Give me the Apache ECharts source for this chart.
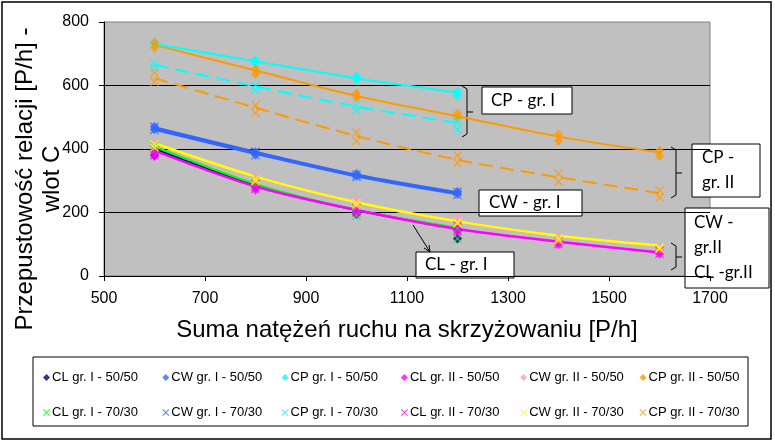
<!DOCTYPE html>
<html>
<head>
<meta charset="utf-8">
<script src="https://cdn.jsdelivr.net/npm/echarts@6/dist/echarts.min.js"></script>
<style>
  html, body { margin: 0; padding: 0; background: #fff; }
  #chart { width: 775px; height: 442px; }
</style>
</head>
<body>
<div id="chart"></div>
<script>
// osie
const X_GR1 = [600, 800, 1000, 1200]
const X_GR2 = [600, 800, 1000, 1200, 1400, 1600]
const X_TICKS = [500, 1700, 200]
const Y_TICKS = [0, 800, 200]

const NAMES_50 = ['CL gr. I - 50/50', 'CW gr. I - 50/50', 'CP gr. I - 50/50', 'CL gr. II - 50/50', 'CW gr. II - 50/50', 'CP gr. II - 50/50']
const NAMES_70 = ['CL gr. I - 70/30', 'CW gr. I - 70/30', 'CP gr. I - 70/30', 'CL gr. II - 70/30', 'CW gr. II - 70/30', 'CP gr. II - 70/30']
const COLORS = ['#000080', '#3366FF', '#00FFFF', '#FF00FF', '#FF99CC', '#FF9900']
const COLORS_70 = ['#00FF00', '#3366FF', '#00FFFF', '#FF00FF', '#FFFF00', '#FF9900']

// punkty pomiarowe (po dwa na kazdy x)
const clI50 = [[395, 380], [285, 280], [205, 195], [145, 118]]
const cwI50 = [[470, 462], [390, 382], [322, 315], [265, 258]]
const cpI50 = [[738, 730], [680, 670], [628, 618], [580, 568]]
const clII50 = [[392, 378], [285, 272], [210, 198], [160, 140], [108, 100], [78, 70]]
const cwII50 = [[418, 410], [310, 300], [240, 232], [183, 175], [122, 115], [92, 85]]
const cpII50 = [[735, 720], [652, 636], [575, 562], [512, 498], [445, 425], [395, 378]]

const clI70 = [[408, 395], [300, 290], [215, 190], [150, 118]]
const cwI70 = [[470, 460], [392, 380], [320, 312], [265, 255]]
const cpI70 = [[670, 655], [600, 585], [538, 522], [485, 462]]
const clII70 = [[395, 380], [290, 275], [212, 200], [158, 142], [110, 100], [80, 70]]
const cwII70 = [[415, 405], [305, 298], [230, 222], [170, 165], [118, 112], [90, 85]]
const cpII70 = [[640, 612], [538, 514], [452, 425], [380, 356], [322, 298], [270, 247]]

// linie trendu
const clI50Trend = [400, 287, 207, 150]
const clI70Trend = [408, 290, 208, 152]
const cwI50Trend = [467, 390, 318, 262]
const cwI70Trend = [462, 386, 315, 259]
const cpI50Trend = [731, 676, 623, 578]
const cpI70Trend = [665, 597, 534, 482]
const clIITrend = [395, 282, 208, 148, 108, 74]
const cwII50Trend = [416, 311, 230, 170, 125, 94]
const cwII70Trend = [418, 313, 232, 172, 127, 96]
const cpII50Trend = [728, 647, 567, 503, 439, 389]
const cpII70Trend = [623, 530, 441, 366, 311, 261]

const CROSS = 'path://M0,1L1,0L5,4L9,0L10,1L6,5L10,9L9,10L5,6L1,10L0,9L4,5Z'

const chart = echarts.init(document.getElementById('chart'))

const pts = (xs, vals) => {
  const out = []
  vals.forEach((pair, i) => pair.forEach(v => out.push([xs[i], v])))
  return out
}

const trend = (name, xs, vals, color, width, dashed) => ({
  name: name,
  type: 'line',
  data: xs.map((x, i) => [x, vals[i]]),
  smooth: 0.3,
  showSymbol: false,
  silent: true,
  lineStyle: { color: color, width: width, type: dashed ? [14, 7] : 'solid' },
  z: 2
})

const scatter = (name, xs, vals, color, cross) => ({
  name: name,
  type: 'scatter',
  data: pts(xs, vals),
  symbol: cross ? CROSS : 'diamond',
  symbolSize: cross ? 9 : [9, 10],
  itemStyle: { color: color },
  z: 3
})

const series = [
  trend('t1', X_GR1, clI50Trend, COLORS[0], 2),
  trend('t2', X_GR1, clI70Trend, COLORS_70[0], 2),
  trend('t3', X_GR2, cwII50Trend, COLORS[4], 2),
  trend('t4', X_GR2, clIITrend, COLORS[3], 2.5),
  trend('t5', X_GR2, cwII70Trend, COLORS_70[4], 2.5),
  trend('t6', X_GR1, cwI50Trend, COLORS[1], 3),
  trend('t7', X_GR1, cwI70Trend, COLORS_70[1], 3),
  trend('t8', X_GR2, cpII70Trend, COLORS_70[5], 2, true),
  trend('t9', X_GR2, cpII50Trend, COLORS[5], 2),
  trend('t10', X_GR1, cpI70Trend, COLORS_70[2], 2, true),
  trend('t11', X_GR1, cpI50Trend, COLORS[2], 2),

  scatter(NAMES_50[0], X_GR1, clI50, COLORS[0]),
  scatter(NAMES_50[1], X_GR1, cwI50, COLORS[1]),
  scatter(NAMES_50[2], X_GR1, cpI50, COLORS[2]),
  scatter(NAMES_50[3], X_GR2, clII50, COLORS[3]),
  scatter(NAMES_50[4], X_GR2, cwII50, COLORS[4]),
  scatter(NAMES_50[5], X_GR2, cpII50, COLORS[5]),
  scatter(NAMES_70[0], X_GR1, clI70, COLORS_70[0], true),
  scatter(NAMES_70[1], X_GR1, cwI70, COLORS_70[1], true),
  scatter(NAMES_70[2], X_GR1, cpI70, COLORS_70[2], true),
  scatter(NAMES_70[3], X_GR2, clII70, COLORS_70[3], true),
  scatter(NAMES_70[4], X_GR2, cwII70, COLORS_70[4], true),
  scatter(NAMES_70[5], X_GR2, cpII70, COLORS_70[5], true)
]

// legenda: 6 kolumn w dwoch wierszach, rowne odstepy jak w Excelu
const legendItem = (name, icon, col, top) => ({
  left: 38 + col * 119.3,
  top: top,
  orient: 'horizontal',
  itemWidth: 7,
  itemHeight: 7,
  selectedMode: false,
  data: [{ name: name, icon: icon }],
  textStyle: { fontFamily: 'Liberation Sans, Arial', fontSize: 13, color: '#000', padding: [0, 0, 0, -3] }
})

const annoFont = 'Lato, Open Sans, sans-serif'
const box = (x, y, w, h, text, tx, ty, lh) => ({
  type: 'group',
  children: [
    { type: 'rect', shape: { x: x, y: y, width: w, height: h }, style: { fill: '#fff', stroke: '#000', lineWidth: 1 } },
    { type: 'text', x: tx, y: ty, style: { text: text, font: '17px ' + annoFont, fill: '#000', lineHeight: lh || 25, verticalAlign: 'top' } }
  ]
})
const brace = (x, y1, y2, ym) => ({
  type: 'group',
  children: [
    { type: 'polyline', shape: { points: [[x - 5, y1], [x, y1 + 3], [x, y2 - 3], [x - 5, y2]] }, style: { stroke: '#000', fill: null, lineWidth: 1 } },
    { type: 'line', shape: { x1: x, y1: ym, x2: x + 6, y2: ym }, style: { stroke: '#000', lineWidth: 1 } }
  ]
})

chart.setOption({
  animation: false,
  backgroundColor: '#fff',
  grid: { left: 104, right: 65, top: 22, bottom: 166, show: true, backgroundColor: '#C0C0C0', borderColor: '#808080', borderWidth: 1 },
  xAxis: {
    type: 'value',
    min: X_TICKS[0],
    max: X_TICKS[1],
    interval: X_TICKS[2],
    name: 'Suma natężeń ruchu na skrzyżowaniu [P/h]',
    nameLocation: 'middle',
    nameGap: 42,
    nameTextStyle: { fontFamily: 'Liberation Sans, Arial', fontSize: 24, color: '#000' },
    axisLine: { onZero: false, lineStyle: { color: '#000', width: 1 } },
    axisTick: { length: 5, lineStyle: { color: '#000' } },
    axisLabel: { margin: 15, fontFamily: 'Liberation Sans, Arial', fontSize: 16, color: '#000', formatter: v => String(v) },
    splitLine: { show: false }
  },
  yAxis: {
    type: 'value',
    min: Y_TICKS[0],
    max: Y_TICKS[1],
    interval: Y_TICKS[2],
    axisLine: { show: true, lineStyle: { color: '#000', width: 1 } },
    axisTick: { show: true, length: 5, lineStyle: { color: '#000' } },
    axisLabel: { margin: 15, fontFamily: 'Liberation Sans, Arial', fontSize: 16, color: '#000' },
    splitLine: { show: true, showMaxLine: false, lineStyle: { color: '#000', width: 1 } }
  },
  legend: NAMES_50.map((n, i) => legendItem(n, 'diamond', i, 366))
    .concat(NAMES_70.map((n, i) => legendItem(n, CROSS, i, 401))),
  series: series,
  graphic: [
    { type: 'rect', shape: { x: 2, y: 2, width: 769, height: 437 }, style: { fill: null, stroke: '#000', lineWidth: 1.5 }, z: 0 },
    { type: 'rect', shape: { x: 33, y: 357, width: 715, height: 69 }, style: { fill: null, stroke: '#000', lineWidth: 1 } },
    {
      type: 'text', x: 38.5, y: 179, rotation: Math.PI / 2,
      style: { text: 'Przepustowość relacji [P/h] -\nwlot C', font: '24px Liberation Sans, Arial', fill: '#000', align: 'center', verticalAlign: 'middle', lineHeight: 27 }
    },
    box(482, 87, 90, 27, 'CP - gr. I', 491, 88),
    brace(467, 86, 137, 112),
    box(692, 144, 68, 53, 'CP -\ngr. II', 702, 145),
    brace(676, 147, 198, 173),
    box(479, 190, 103, 26, 'CW - gr. I', 489, 190),
    box(685, 208, 84, 80, 'CW -\ngr.II\nCL -gr.II', 694, 210, 25),
    brace(676, 243, 270, 257),
    box(416, 252, 98, 26, 'CL - gr. I', 425, 252),
    { type: 'line', shape: { x1: 413, y1: 225, x2: 430, y2: 252 }, style: { stroke: '#000', lineWidth: 1 } },
    { type: 'polyline', shape: { points: [[429, 245], [430, 252], [424, 248]] }, style: { stroke: '#000', fill: null, lineWidth: 1 } }
  ]
})
</script>
</body>
</html>
